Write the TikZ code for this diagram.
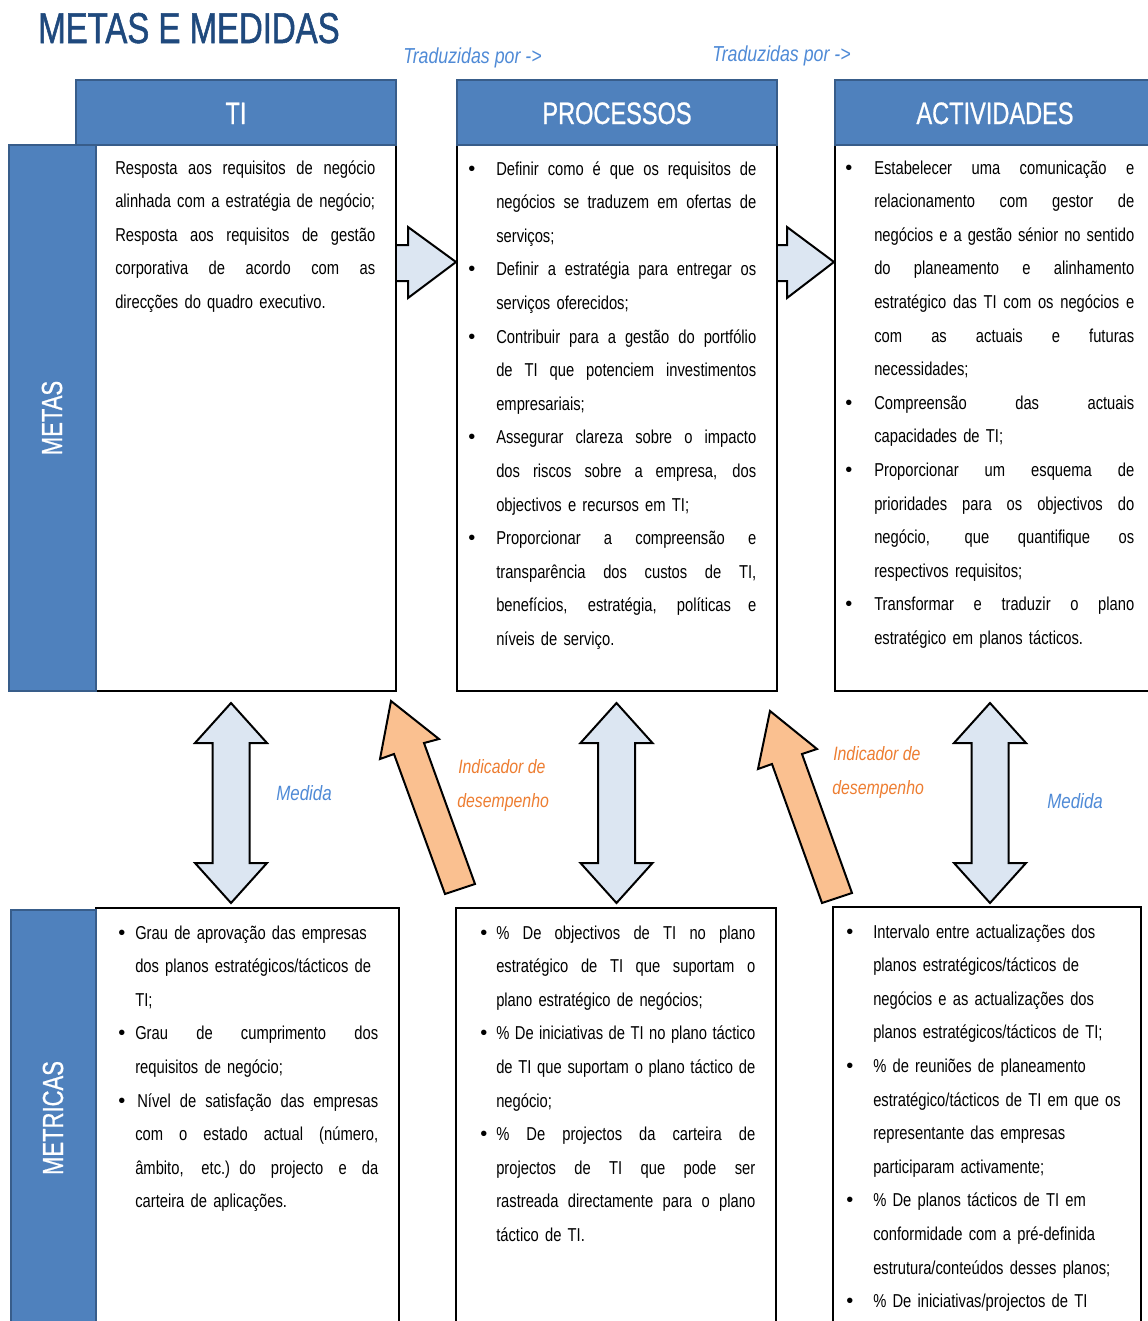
\documentclass[tikz,border=0pt]{standalone}
\usepackage{fontspec}
\setmainfont{Liberation Sans}[FakeStretch=0.79]
\newfontfamily\labfont{Liberation Sans}[FakeStretch=0.82]
\newfontfamily\headfont{Liberation Sans}[FakeStretch=0.76,FakeBold=0.7]
\newfontfamily\titlefont{Liberation Sans}[FakeStretch=0.765,FakeBold=1.2]
\newfontfamily\bulfont{Liberation Sans}

\definecolor{titleblue}{HTML}{1F497D}
\definecolor{hdrfill}{HTML}{4F81BD}
\definecolor{hdrline}{HTML}{385D8A}
\definecolor{arrowfill}{HTML}{DCE6F2}
\definecolor{kpifill}{HTML}{FAC090}
\definecolor{kpitext}{HTML}{ED7D31}
\definecolor{labelblue}{HTML}{4F8AD6}

\newlength\bulind
% a line set to a given width: s = spread the words, l = flush left
\newcommand\setline[3]{%
  \if s#2\hbox to #1{\spaceskip=\fontdimen2\font plus 1fil minus \fontdimen4\font\relax #3}%
  \else\hbox to #1{#3\hfil}\fi}
\newcommand\bulletmark{{\bulfont\fontsize{15}{15}\selectfont\textbullet}}
% one line of running text
\newcommand\txline[2][s]{\setline{\linewidth}{#1}{#2}}
% first line of a bulleted item
\newcommand\bulline[2][s]{\hbox to \linewidth{\hbox to \bulind{\bulletmark\hss}\setline{\dimexpr\linewidth-\bulind\relax}{#1}{#2}}}
% continuation line of a bulleted item
\newcommand\contline[2][s]{\hbox to \linewidth{\hskip\bulind\setline{\dimexpr\linewidth-\bulind\relax}{#1}{#2}}}

\tikzset{
  cbox/.style={draw=black, line width=1.5pt, fill=white},
  hdr/.style={draw=hdrline, line width=1.5pt, fill=hdrfill},
  hdrtext/.style={text=white, inner sep=0pt, anchor=base, font=\headfont\fontsize{23.25}{26}\selectfont},
  sidetext/.style={text=white, inner sep=0pt, anchor=base, rotate=90, font=\headfont\fontsize{21.75}{24}\selectfont},
  body/.style={inner sep=0pt, anchor=base west, font=\fontsize{14}{25.2}\selectfont},
  barrow/.style={draw=black, line width=1.5pt, fill=arrowfill, line join=miter},
  kpiarrow/.style={draw=black, line width=1.5pt, fill=kpifill, line join=miter},
  trlabel/.style={inner sep=0pt, anchor=base west, text=labelblue, font=\labfont\itshape\fontsize{16.25}{18}\selectfont},
  mlabel/.style={inner sep=0pt, anchor=base west, text=labelblue, font=\labfont\itshape\fontsize{15.5}{18}\selectfont},
  klabel/.style={inner sep=0pt, anchor=base west, text=kpitext, font=\labfont\itshape\fontsize{14.5}{18}\selectfont}
}

\begin{document}
\begin{tikzpicture}[x=0.75pt,y=-0.75pt]
\useasboundingbox (0,0) rectangle (1148,1321);
\clip (0,0) rectangle (1148,1321);

% title
\node[inner sep=0pt, anchor=base west, text=titleblue,
      font=\titlefont\fontsize{32.3}{36}\selectfont] (title) at (38,43) {METAS E MEDIDAS};

% "translated by" arrows between the columns (under the boxes)
\draw[barrow] (380,245) -- (408,245) -- (408,227) -- (456,262) -- (408,298) -- (408,281) -- (380,281) -- cycle;
\draw[barrow] (760,245) -- (787,245) -- (787,227) -- (834,262) -- (787,298) -- (787,281) -- (760,281) -- cycle;

% upper row: goals
\draw[cbox] (76,145) rectangle (396,691);
\draw[hdr] (76,80) rectangle (396,145);
\draw[hdr] (9,145) rectangle (96,691);
\draw[cbox] (457,145) rectangle (777,691);
\draw[hdr] (457,80) rectangle (777,145);
\draw[cbox] (835,145) rectangle (1170,691);
\draw[hdr] (835,80) rectangle (1170,145);

% lower row: metrics
\draw[cbox] (96,908) rectangle (399,1340);
\draw[hdr] (11,910) rectangle (96,1340);
\draw[cbox] (456,908) rectangle (776,1340);
\draw[cbox] (833,907) rectangle (1141,1340);

% headings
\node[hdrtext] (hTI) at (236,124) {TI};
\node[hdrtext] (hPROC) at (617,124) {PROCESSOS};
\node[hdrtext] (hACT) at (995,124) {ACTIVIDADES};
\node[sidetext] (sMETAS) at (62,418) {METAS};
\node[sidetext] (sMETRICAS) at (63,1118) {METRICAS};

% labels of the connecting arrows
\node[trlabel] (tr1) at (403,63) {Traduzidas por ->};
\node[trlabel] (tr2) at (712,61) {Traduzidas por ->};

% measure arrows between goals and metrics
\foreach \cx in {231,616.5,990}{
  \draw[barrow] (\cx,703) -- (\cx+36,743) -- (\cx+18.5,743) -- (\cx+18.5,863) -- (\cx+36,863)
    -- (\cx,903) -- (\cx-36,863) -- (\cx-18.5,863) -- (\cx-18.5,743) -- (\cx-36,743) -- cycle;
}

% performance indicator arrows
\draw[kpiarrow] (391,701) -- (439,739) -- (424,743) -- (475,884) -- (445,894) -- (394,754) -- (380,759) -- cycle;
\draw[kpiarrow] (770,711) -- (817,749) -- (802,754) -- (852,893) -- (822,903) -- (772,764) -- (758,769) -- cycle;

\node[mlabel] (med1) at (276,800) {Medida};
\node[mlabel] (med2) at (1047,808) {Medida};
\node[klabel] (ind1a) at (458,773) {Indicador de};
\node[klabel] (ind1b) at (457,807) {desempenho};
\node[klabel] (ind2a) at (833,760) {Indicador de};
\node[klabel] (ind2b) at (832,794) {desempenho};

% goals text
\node[body, text width=195pt] (tTI) at (115,174) {%
\txline{Resposta aos requisitos de negócio}
\txline[l]{alinhada com a estratégia de negócio;}
\txline{Resposta aos requisitos de gestão}
\txline{corporativa de acordo com as}
\txline[l]{direcções do quadro executivo.}};

\node[body, text width=216pt] (tPROC) at (468,175) {\setlength\bulind{21pt}%
\bulline{Definir como é que os requisitos de}
\contline{negócios se traduzem em ofertas de}
\contline[l]{serviços;}
\bulline{Definir a estratégia para entregar os}
\contline[l]{serviços oferecidos;}
\bulline{Contribuir para a gestão do portfólio}
\contline{de TI que potenciem investimentos}
\contline[l]{empresariais;}
\bulline{Assegurar clareza sobre o impacto}
\contline{dos riscos sobre a empresa, dos}
\contline[l]{objectivos e recursos em TI;}
\bulline{Proporcionar a compreensão e}
\contline{transparência dos custos de TI,}
\contline{benefícios, estratégia, políticas e}
\contline[l]{níveis de serviço.}};

\node[body, text width=216.75pt] (tACT) at (845,174) {\setlength\bulind{21.75pt}%
\bulline{Estabelecer uma comunicação e}
\contline{relacionamento com gestor de}
\contline{negócios e a gestão sénior no sentido}
\contline{do planeamento e alinhamento}
\contline{estratégico das TI com os negócios e}
\contline{com as actuais e futuras}
\contline[l]{necessidades;}
\bulline{Compreensão das actuais}
\contline[l]{capacidades de TI;}
\bulline{Proporcionar um esquema de}
\contline{prioridades para os objectivos do}
\contline{negócio, que quantifique os}
\contline[l]{respectivos requisitos;}
\bulline{Transformar e traduzir o plano}
\contline[l]{estratégico em planos tácticos.}};

% metrics text
\node[body, text width=195pt] (mTI) at (118,939) {\setlength\bulind{12.75pt}%
\bulline[l]{Grau de aprovação das empresas}
\contline[l]{dos planos estratégicos/tácticos de}
\contline[l]{TI;}
\bulline{Grau de cumprimento dos}
\contline[l]{requisitos de negócio;}
\bulline{\hskip1.5pt Nível de satisfação das empresas}
\contline{com o estado actual (número,}
\contline{âmbito, etc.) do projecto e da}
\contline[l]{carteira de aplicações.}};

\node[body, text width=206.25pt] (mPROC) at (480,939) {\setlength\bulind{12pt}%
\bulline{\% De objectivos de TI no plano}
\contline{estratégico de TI que suportam o}
\contline[l]{plano estratégico de negócios;}
\bulline{\% De iniciativas de TI no plano táctico}
\contline{de TI que suportam o plano táctico de}
\contline[l]{negócio;}
\bulline{\% De projectos da carteira de}
\contline{projectos de TI que pode ser}
\contline{rastreada directamente para o plano}
\contline[l]{táctico de TI.}};

\node[body, text width=210pt] (mACT) at (846,938) {\setlength\bulind{20.25pt}%
\bulline[l]{Intervalo entre actualizações dos}
\contline[l]{planos estratégicos/tácticos de}
\contline[l]{negócios e as actualizações dos}
\contline[l]{planos estratégicos/tácticos de TI;}
\bulline[l]{\% de reuniões de planeamento}
\contline[l]{estratégico/tácticos de TI em que os}
\contline[l]{representante das empresas}
\contline[l]{participaram activamente;}
\bulline[l]{\% De planos tácticos de TI em}
\contline[l]{conformidade com a pré-definida}
\contline[l]{estrutura/conteúdos desses planos;}
\bulline[l]{\% De iniciativas/projectos de TI}};
\end{tikzpicture}
\end{document}
